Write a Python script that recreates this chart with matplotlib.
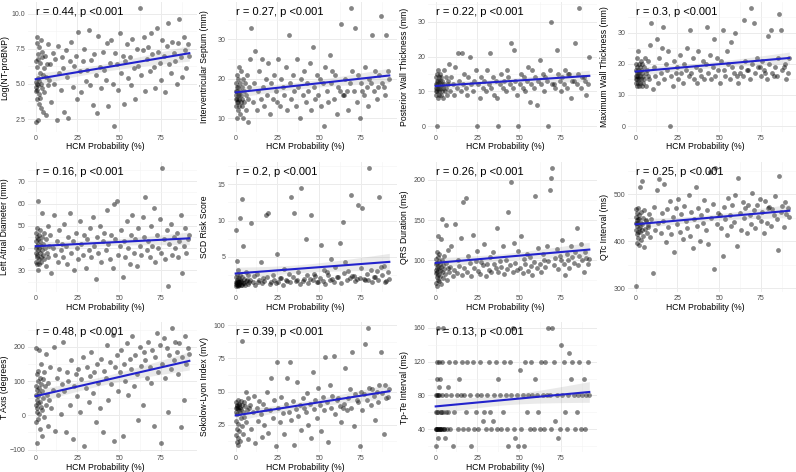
import numpy as np
import matplotlib
matplotlib.use("Agg")
import matplotlib.pyplot as plt
from matplotlib.ticker import FixedLocator, FormatStrFormatter

plt.rcParams['font.family'] = ['Liberation Sans', 'DejaVu Sans']

# HCM probability (%) -- shared by every panel (same patients)
hcm_prob = [
    0.1, 0.2, 0.3, 0.4, 0.5, 0.6, 0.7, 0.8, 0.9, 1.0,
    1.1, 1.2, 1.3, 1.5, 1.6, 1.7, 1.9, 2.0, 2.1, 2.3,
    2.5, 2.6, 2.8, 3.0, 3.2, 3.4, 3.6, 3.9, 4.1, 4.4,
    4.7, 5.0, 5.3, 5.6, 6.0, 6.4, 6.8, 7.2, 7.6, 8.0,
    8.7, 9.5, 10.3, 11.0, 11.9, 12.6, 13.4, 14.1, 15.0, 15.8,
    16.5, 17.3, 18.2, 19.0, 19.7, 20.6, 21.4, 22.3, 23.1, 24.0,
    24.8, 25.7, 26.5, 27.4, 28.2, 29.1, 30.0, 30.8, 31.7, 32.5,
    33.4, 34.2, 35.1, 35.9, 36.8, 37.6, 38.5, 39.3, 40.2, 41.0,
    41.9, 42.7, 43.6, 44.4, 45.3, 46.1, 47.0, 47.8, 48.7, 49.5,
    50.4, 51.2, 52.1, 52.9, 53.8, 54.6, 55.5, 56.3, 57.2, 58.0,
    58.9, 59.7, 60.6, 61.4, 62.3, 63.1, 64.0, 64.8, 65.7, 66.5,
    67.4, 68.2, 69.1, 69.9, 70.8, 71.6, 72.5, 73.3, 74.2, 75.0,
    75.9, 76.7, 77.6, 78.4, 79.3, 80.1, 81.0, 81.8, 82.7, 83.5,
    84.4, 85.2, 86.1, 86.9, 87.8, 88.6, 89.5, 90.3, 91.2, 92.0,
]

log_ntprobnp = [
    4.8, 5.1, 2.3, 6.6, 4.5, 7.9, 5.0, 3.9, 6.2, 8.3,
    4.6, 5.4, 7.1, 2.4, 4.9, 6.8, 3.6, 5.2, 7.6, 4.3,
    5.8, 6.5, 4.0, 8.1, 5.0, 3.3, 6.9, 4.7, 7.3, 5.6,
    3.0, 6.1, 4.4, 7.0, 5.5, 2.8, 6.4, 4.9, 7.8, 5.3,
    6.4, 3.7, 7.2, 5.0, 6.8, 2.4, 7.7, 5.8, 4.6, 6.9,
    6.1, 3.0, 7.4, 5.5, 2.6, 6.6, 8.0, 4.8, 6.3, 7.0,
    3.9, 8.7, 5.9, 4.4, 6.6, 7.5, 5.2, 6.0, 8.8, 4.9,
    6.7, 3.5, 7.1, 5.6, 2.9, 8.4, 6.2, 4.7, 7.3, 6.0,
    5.3, 7.9, 3.4, 6.5, 8.1, 5.0, 2.0, 7.2, 6.4, 4.6,
    8.6, 5.8, 7.0, 3.6, 6.6, 7.8, 5.4, 6.9, 4.9, 8.2,
    6.1, 3.9, 7.5, 6.3, 10.4, 5.6, 7.4, 8.3, 4.5, 6.8,
    7.6, 5.9, 8.6, 7.1, 6.2, 4.7, 9.0, 7.3, 6.5, 5.3,
    8.1, 7.0, 4.4, 7.7, 9.3, 6.4, 5.8, 8.0, 7.2, 6.6,
    5.0, 7.9, 9.6, 6.9, 5.5, 8.3, 7.4, 6.1, 7.8, 7.0,
]

ivs = [
    15, 17, 13, 19, 16, 10, 18, 14, 21, 15,
    17, 12, 16, 20, 14, 18, 13, 23, 16, 15,
    19, 11, 17, 14, 16, 22, 13, 18, 15, 20,
    10, 17, 14, 19, 16, 12, 21, 15, 9, 18,
    25, 33, 14, 19, 27, 12, 17, 22, 15, 25,
    18, 13, 20, 16, 24, 11, 19, 15, 21, 17,
    14, 25, 13, 20, 18, 16, 23, 12, 31, 19,
    15, 21, 17, 13, 25, 18, 10, 20, 16, 22,
    14, 19, 17, 24, 12, 28, 18, 15, 21, 16,
    20, 13, 19, 8, 23, 17, 14, 26, 19, 22,
    15, 21, 11, 18, 17, 34, 16, 16, 20, 17,
    12, 19, 38, 22, 17, 33, 14, 21, 10, 19,
    17, 16, 23, 18, 13, 20, 19, 31, 17, 22,
    15, 18, 21, 36, 19, 18, 16, 31, 22, 20,
]

pwt = [
    11, 12, 9, 14, 10, 13, 0, 11, 15, 12,
    10, 8, 13, 11, 16, 12, 9, 14, 11, 10,
    13, 12, 15, 9, 11, 14, 10, 12, 13, 8,
    11, 16, 12, 10, 14, 11, 9, 13, 12, 18,
    10, 14, 12, 9, 17, 11, 21, 13, 10, 21,
    12, 15, 11, 9, 14, 20, 12, 10, 13, 16,
    0, 12, 8, 14, 11, 13, 10, 16, 12, 21,
    11, 14, 9, 13, 8, 0, 12, 15, 11, 13,
    10, 16, 14, 12, 24, 11, 22, 13, 9, 0,
    12, 15, 11, 14, 10, 13, 17, 7, 12, 16,
    11, 14, 6, 13, 19, 12, 15, 10, 14, 13,
    0, 16, 30, 12, 12, 11, 22, 15, 13, 10,
    14, 12, 16, 11, 15, 15, 8, 13, 13, 24,
    12, 15, 34, 11, 14, 14, 13, 9, 12, 20,
]

mwt = [
    16, 18, 14, 20, 15, 17, 13, 19, 16, 22,
    15, 17, 14, 24, 16, 18, 13, 20, 15, 17,
    19, 14, 16, 21, 15, 18, 13, 17, 20, 16,
    14, 19, 15, 22, 17, 13, 18, 16, 21, 15,
    26, 33, 12, 19, 16, 28, 14, 22, 17, 25,
    32, 15, 20, 18, 24, 0, 16, 13, 21, 17,
    19, 15, 23, 17, 14, 20, 18, 25, 16, 31,
    17, 22, 15, 19, 14, 24, 18, 16, 21, 15,
    20, 32, 17, 23, 15, 19, 28, 16, 22, 18,
    14, 21, 31, 18, 16, 24, 20, 15, 27, 19,
    17, 30, 16, 14, 17, 19, 16, 34, 21, 18,
    18, 15, 38, 20, 33, 17, 22, 19, 19, 16,
    21, 18, 17, 15, 29, 20, 31, 17, 16, 19,
    16, 22, 36, 31, 18, 19, 20, 15, 17, 22,
]

la_diam = [
    38, 43, 34, 47, 40, 36, 45, 33, 41, 49,
    37, 42, 30, 44, 39, 61, 35, 46, 40, 33,
    43, 38, 48, 36, 41, 34, 45, 39, 56, 37,
    42, 35, 47, 40, 32, 44, 38, 50, 36, 41,
    46, 29, 40, 55, 37, 43, 34, 48, 39, 42,
    36, 51, 41, 33, 45, 56, 38, 43, 30, 47,
    40, 35, 52, 42, 37, 46, 31, 44, 39, 49,
    36, 54, 41, 26, 45, 38, 50, 34, 43, 47,
    39, 57, 42, 35, 46, 31, 60, 44, 61, 37,
    41, 48, 27, 43, 36, 52, 40, 33, 46, 55,
    38, 44, 32, 49, 41, 37, 54, 45, 63, 39,
    43, 36, 50, 41, 58, 34, 46, 40, 53, 38,
    76, 44, 35, 48, 23, 42, 51, 37, 45, 40,
    47, 36, 43, 55, 29, 41, 49, 38, 44, 46,
]

scd_risk = [
    1.2, 8.7, 1.5, 0.9, 2.1, 1.4, 1.0, 1.8, 4.4, 1.3,
    2.6, 1.1, 2.0, 1.6, 3.2, 0.9, 1.4, 2.0, 1.1, 1.2,
    10.3, 1.7, 2.4, 1.0, 1.6, 1.5, 13.0, 1.1, 2.2, 6.5,
    1.3, 1.9, 1.3, 1.0, 2.8, 1.6, 1.7, 1.2, 2.5, 1.4,
    1.8, 9.7, 1.5, 2.3, 1.1, 2.6, 1.4, 1.8, 4.2, 1.3,
    2.0, 1.6, 10.8, 2.1, 11.0, 1.2, 1.5, 2.4, 1.7, 1.3,
    5.4, 1.4, 2.0, 2.0, 1.1, 3.3, 1.8, 1.6, 2.6, 1.5,
    13.3, 2.2, 11.0, 1.6, 1.7, 2.8, 1.2, 14.5, 1.6, 1.9,
    7.4, 2.5, 1.3, 1.9, 10.7, 1.8, 2.6, 2.3, 1.4, 1.5,
    2.0, 6.6, 1.6, 3.1, 1.2, 2.8, 2.4, 1.7, 4.6, 1.9,
    1.5, 3.5, 2.2, 2.1, 6.9, 1.3, 9.8, 2.7, 4.2, 1.8,
    3.0, 2.0, 13.5, 2.3, 2.3, 1.6, 1.9, 12.2, 2.0, 3.4,
    11.7, 1.9, 1.8, 2.6, 1.7, 17.3, 3.1, 1.5, 2.1, 2.2,
    3.0, 1.8, 13.2, 3.6, 2.5, 3.7, 1.4, 1.6, 2.9, 1.9,
]

qrs = [
    88, 95, 72, 102, 84, 110, 79, 91, 97, 68,
    86, 130, 93, 76, 104, 82, 99, 90, 74, 108,
    87, 96, 80, 127, 92, 71, 101, 85, 152, 94,
    78, 89, 105, 83, 144, 97, 75, 91, 113, 86,
    92, 118, 80, 88, 145, 84, 100, 93, 128, 82,
    172, 90, 178, 86, 105, 97, 80, 132, 91, 99,
    112, 87, 83, 98, 94, 120, 81, 96, 88, 104,
    85, 110, 95, 90, 140, 86, 99, 92, 118, 83,
    100, 89, 160, 94, 198, 85, 122, 97, 88, 112,
    91, 130, 84, 102, 96, 108, 87, 104, 93, 82,
    98, 180, 90, 115, 95, 86, 108, 100, 92, 118,
    99, 187, 203, 215, 94, 103, 114, 89, 106, 100,
    125, 96, 82, 108, 101, 90, 118, 104, 97, 110,
    140, 94, 105, 120, 100, 86, 110, 103, 96, 102,
]

qtc = [
    440, 425, 468, 305, 452, 415, 438, 433, 396, 461,
    445, 420, 447, 438, 408, 470, 428, 455, 392, 447,
    431, 515, 419, 462, 440, 402, 528, 436, 424, 412,
    450, 389, 466, 427, 445, 443, 418, 431, 434, 459,
    410, 448, 332, 472, 425, 509, 438, 532, 418, 461,
    443, 522, 398, 468, 430, 485, 415, 452, 378, 471,
    436, 490, 420, 458, 405, 475, 444, 429, 498, 412,
    462, 385, 447, 515, 432, 470, 401, 455, 438, 488,
    424, 466, 395, 547, 450, 480, 342, 556, 437, 461,
    455, 428, 369, 472, 448, 414, 492, 455, 432, 478,
    441, 498, 390, 535, 460, 425, 483, 449, 470, 418,
    478, 456, 437, 502, 466, 429, 478, 451, 490, 444,
    463, 418, 485, 440, 470, 472, 432, 468, 455, 496,
    448, 382, 538, 462, 475, 430, 484, 458, 470, 452,
]

t_axis = [
    30, 85, -20, 60, 195, 10, 120, 45, -80, 75,
    20, 100, 55, -10, 130, 35, 80, 190, 5, 65,
    110, -40, 40, 90, 25, 150, -60, 70, 15, 105,
    50, -5, 125, 85, 30, 180, 60, -30, 95, 45,
    140, 20, 75, 200, -45, 110, 60, 135, 5, 90,
    215, 70, -50, 125, 100, 30, 160, -70, 85, 120,
    55, 135, 10, 105, 170, -90, 80, 140, 40, 115,
    185, 65, 125, -20, 150, 95, 20, 165, -50, 130,
    110, 205, 45, 155, 90, 235, -75, 140, 175, 70,
    125, 190, -60, 150, 100, 210, 60, 165, 135, 230,
    85, 175, 120, -15, 200, 145, 30, 185, 160, 110,
    215, 140, 95, 190, -30, 170, 240, 125, 205, -80,
    150, 225, 110, 195, 10, 175, 135, 255, 160, 215,
    185, 120, 210, -35, 170, 45, 230, 150, 195, 180,
]

sokolow = [
    38, 17, 42, 28, 35, 12, 40, 22, 38, 33,
    39, 15, 37, 26, 44, 10, 36, 41, 20, 40,
    34, 38, 13, 43, 30, 37, 24, 40, 88, 35,
    18, 42, 31, 39, 27, 50, 36, 14, 45, 38,
    40, 22, 35, 47, 11, 38, 28, 43, 33, 16,
    41, 25, 37, 50, 19, 36, 60, 30, 44, 9,
    72, 38, 27, 46, 34, 18, 41, 60, 35, 72,
    29, 43, 10, 37, 57, 32, 40, 21, 45, 38,
    35, 49, 25, 41, 15, 65, 37, 44, 30, 53,
    40, 20, 46, 36, 76, 42, 12, 55, 38, 47,
    77, 33, 44, 45, 39, 27, 38, 41, 68, 36,
    45, 52, 38, 80, 24, 48, 44, 42, 9, 50,
    36, 48, 86, 44, 98, 53, 40, 52, 47, 29,
    50, 42, 55, 80, 49, 18, 55, 45, 46, 52,
]

tpte = [
    40, 40, 60, 20, 80, 120, 40, 100, 80, 60,
    40, 80, 160, 30, 40, 60, 120, 40, 80, 90,
    100, 40, 40, 60, 60, 40, 40, 120, 80, 160,
    60, 40, 40, 30, 60, 80, 40, 60, 90, 120,
    40, 80, 20, 60, 120, 80, 40, 100, 80, 120,
    40, 80, 60, 120, 40, 80, 20, 120, 40, 60,
    80, 40, 120, 80, 50, 60, 40, 80, 120, 60,
    40, 50, 80, 120, 40, 100, 80, 40, 60, 120,
    80, 40, 20, 120, 80, 160, 40, 30, 80, 20,
    110, 40, 80, 20, 120, 60, 80, 40, 120, 80,
    40, 100, 80, 60, 40, 120, 80, 40, 120, 80,
    160, 80, 40, 160, 120, 50, 80, 30, 40, 140,
    80, 120, 60, 40, 80, 130, 100, 120, 80, 40,
    60, 80, 120, 40, 80, 100, 40, 80, 120, 80,
]

ylabels = ["Log(NT-proBNP)", "Interventricular Septum (mm)", "Posterior Wall Thickness (mm)",
           "Maximum Wall Thickness (mm)", "Left Atrial Diameter (mm)", "SCD Risk Score",
           "QRS Duration (ms)", "QTc Interval (ms)", "T Axis (degrees)",
           "Sokolow-Lyon Index (mV)", "Tp-Te Interval (ms)"]
r_labels = ["r = 0.44, p <0.001", "r = 0.27, p <0.001", "r = 0.22, p <0.001", "r = 0.3, p <0.001",
            "r = 0.16, p <0.001", "r = 0.2, p <0.001", "r = 0.26, p <0.001", "r = 0.25, p <0.001",
            "r = 0.48, p <0.001", "r = 0.39, p <0.001", "r = 0.13, p <0.001"]
yticks = [[2.5, 5.0, 7.5, 10.0], [10, 20, 30], [0, 10, 20, 30], [0, 10, 20, 30],
          [30, 40, 50, 60, 70], [0, 5, 10, 15], [100, 150, 200], [300, 400, 500],
          [-100, 0, 100, 200], [25, 50, 75, 100], [40, 80, 120, 160]]
series = [log_ntprobnp, ivs, pwt, mwt, la_diam, scd_risk, qrs, qtc, t_axis, sokolow, tpte]

W, H = 796, 472
PW, PH = 169, 130
fig = plt.figure(figsize=(W / 100, H / 100), dpi=100)
x = np.array(hcm_prob)

for i, y in enumerate(series):
    y = np.array(y, dtype=float)
    r, c = divmod(i, 4)
    left, top = 28 + 200 * c, 2 + 160 * r
    ax = fig.add_axes([left / W, 1 - (top + PH) / H, PW / W, PH / H])

    ax.scatter(x, y, s=12, color="black", alpha=0.48, linewidths=0, zorder=2)

    # linear fit with 95% band, like geom_smooth(method="lm")
    b, a = np.polyfit(x, y, 1)
    xs = np.linspace(x.min(), x.max(), 100)
    fit = a + b * xs
    n = len(x)
    resid = y - (a + b * x)
    s = np.sqrt(np.sum(resid ** 2) / (n - 2))
    se = s * np.sqrt(1 / n + (xs - x.mean()) ** 2 / np.sum((x - x.mean()) ** 2))
    ax.fill_between(xs, fit - 1.97 * se, fit + 1.97 * se, color="#999999", alpha=0.2,
                    linewidth=0, zorder=3)
    ax.plot(xs, fit, color="#2222cc", lw=1.5, zorder=4)

    ax.margins(0.05)
    yt = yticks[i]
    step = yt[1] - yt[0]
    ax.xaxis.set_major_locator(FixedLocator([0, 25, 50, 75]))
    ax.xaxis.set_minor_locator(FixedLocator([-12.5, 12.5, 37.5, 62.5, 87.5]))
    ax.yaxis.set_major_locator(FixedLocator(yt))
    ax.yaxis.set_minor_locator(FixedLocator([yt[0] - step / 2] + [v + step / 2 for v in yt]))
    if i == 0:
        ax.yaxis.set_major_formatter(FormatStrFormatter("%.1f"))
    ax.grid(True, which="major", color="#EBEBEB", lw=0.7, zorder=0)
    ax.grid(True, which="minor", color="#F3F3F3", lw=0.4, zorder=0)
    ax.set_axisbelow(True)
    for sp in ax.spines.values():
        sp.set_visible(False)
    ax.tick_params(which="both", length=0, labelsize=5, labelcolor="#4D4D4D", pad=2)

    ax.set_xlabel("HCM Probability (%)", fontsize=6.2)
    ax.xaxis.set_label_coords(0.46, -10.5 / PH, transform=ax.transAxes)
    ax.set_ylabel(ylabels[i], fontsize=6.2)
    ax.yaxis.set_label_coords(-19 / PW, 0.5, transform=ax.transAxes)
    ax.text(0, 0.92, r_labels[i], transform=ax.get_xaxis_transform(), fontsize=8,
            ha="left", va="center", zorder=5)

fig.savefig("out.png", dpi=100)
